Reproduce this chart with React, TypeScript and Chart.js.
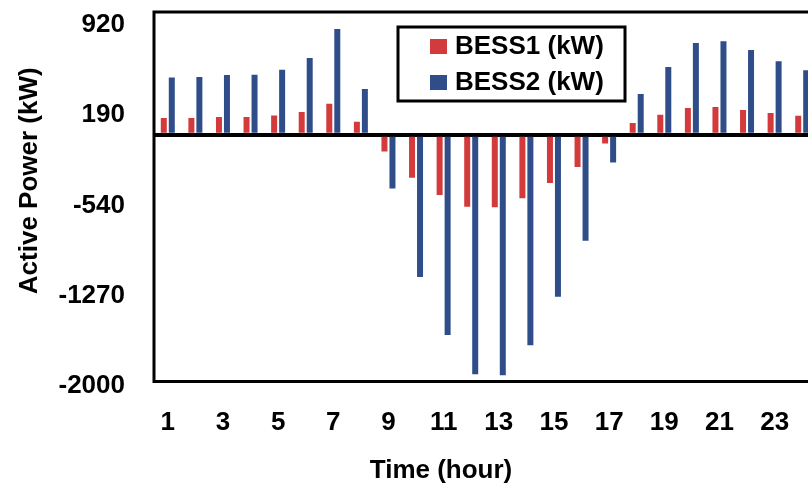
import React, { useEffect, useRef } from "react";
import { Chart, registerables } from "chart.js";

Chart.register(...registerables);

const hours = ["1","2","3","4","5","6","7","8","9","10","11","12","13","14","15","16","17","18","19","20","21","22","23","24"];
const bess1 = [135, 135, 144, 144, 157, 184, 252, 105, -135, -349, -489, -584, -587, -514, -392, -262, -71, 95, 162, 217, 225, 200, 176, 154];
const bess2 = [465, 468, 484, 487, 527, 622, 858, 371, -436, -1152, -1623, -1942, -1950, -1706, -1314, -860, -225, 330, 549, 744, 757, 687, 595, 522];
const yTickValues = [920, 190, -540, -1270, -2000];
const seriesLabels = ["BESS1 (kW)", "BESS2 (kW)"];
const seriesColors = ["#D33A3C", "#2F4E89"];
const xTitle = "Time (hour)";
const yTitle = "Active Power (kW)";

const FONT = "'Liberation Sans', Arial, Helvetica, sans-serif";

const framePlugin = {
  id: "frameAndTitles",
  afterDraw(chart: any) {
    const { ctx, chartArea: ca } = chart;
    ctx.save();
    // plot frame
    ctx.strokeStyle = "#000";
    ctx.lineWidth = 3;
    ctx.strokeRect(ca.left, ca.top, ca.right - ca.left, ca.bottom - ca.top);

    // axis titles
    ctx.fillStyle = "#000";
    ctx.font = `bold 26px ${FONT}`;
    ctx.textAlign = "center";
    ctx.textBaseline = "middle";
    ctx.fillText(xTitle, ca.left + 287, ca.bottom + 89);
    ctx.save();
    ctx.translate(ca.left - 124, (ca.top + ca.bottom) / 2 - 16);
    ctx.rotate(-Math.PI / 2);
    ctx.fillText(yTitle, 0, 0);
    ctx.restore();

    // legend
    const lx = ca.left + 244;
    const ly = ca.top + 15;
    const lw = 227;
    const lh = 74;
    ctx.fillStyle = "#fff";
    ctx.fillRect(lx, ly, lw, lh);
    ctx.lineWidth = 3;
    ctx.strokeStyle = "#000";
    ctx.strokeRect(lx, ly, lw, lh);
    ctx.textAlign = "left";
    ctx.textBaseline = "middle";
    chart.data.datasets.forEach((ds: any, i: number) => {
      const cy = ly + 19.5 + i * 36;
      ctx.fillStyle = ds.backgroundColor;
      ctx.fillRect(lx + 32, cy - 7.5, 17, 15);
      ctx.fillStyle = "#000";
      ctx.font = `bold 26px ${FONT}`;
      ctx.fillText(ds.label, lx + 57, cy);
    });
    ctx.restore();
  },
};

export default function App() {
  const canvasRef = useRef<HTMLCanvasElement | null>(null);

  useEffect(() => {
    const canvas = canvasRef.current;
    if (!canvas) return;
    const chart = new Chart(canvas, {
      type: "bar",
      data: {
        labels: hours,
        datasets: [
          {
            label: seriesLabels[0],
            data: bess1,
            backgroundColor: seriesColors[0],
            borderWidth: 0,
            categoryPercentage: 0.58,
            barPercentage: 0.75,
          },
          {
            label: seriesLabels[1],
            data: bess2,
            backgroundColor: seriesColors[1],
            borderWidth: 0,
            categoryPercentage: 0.58,
            barPercentage: 0.75,
          },
        ],
      },
      options: {
        responsive: false,
        animation: false,
        devicePixelRatio: 1,
        layout: { padding: { top: 12, right: 0, bottom: 0, left: 0 } },
        plugins: {
          legend: { display: false },
          tooltip: { enabled: false },
          title: { display: false },
        },
        scales: {
          x: {
            type: "category",
            offset: true,
            grid: { display: false, drawTicks: false },
            border: { display: false },
            ticks: {
              autoSkip: false,
              maxRotation: 0,
              minRotation: 0,
              padding: 26,
              color: "#000",
              font: { family: FONT, size: 26, weight: "bold" },
              callback: function (this: any, _v: any, index: number) {
                return index % 2 === 0 ? hours[index] : "";
              },
            },
            afterFit: (scale: any) => {
              scale.height = 113.5;
              scale.paddingLeft = 0;
              scale.paddingRight = 0;
            },
          },
          y: {
            min: -2000,
            max: 995,
            z: 1,
            afterBuildTicks: (scale: any) => {
              const vals = [...yTickValues, 0].sort((a, b) => a - b);
              scale.ticks = vals.map((v) => ({ value: v }));
            },
            afterFit: (scale: any) => {
              scale.width = 154;
              scale.paddingTop = 0;
              scale.paddingBottom = 0;
            },
            grid: {
              drawTicks: false,
              color: (c: any) => (c.tick && c.tick.value === 0 ? "#000" : "rgba(0,0,0,0)"),
              lineWidth: (c: any) => (c.tick && c.tick.value === 0 ? 4 : 0),
            },
            border: { display: false },
            ticks: {
              padding: 29,
              labelOffset: 4,
              color: "#000",
              font: { family: FONT, size: 26, weight: "bold" },
              callback: (v: any) => (v === 0 ? "" : String(v)),
            },
          },
        },
      },
      plugins: [framePlugin],
    });
    return () => chart.destroy();
  }, []);

  return (
    <div
      style={{
        position: "fixed",
        left: 0,
        top: 0,
        width: 808,
        height: 495,
        overflow: "hidden",
        background: "#fff",
      }}
    >
      <canvas ref={canvasRef} width={816} height={495} style={{ display: "block", width: 816, height: 495 }} />
    </div>
  );
}
